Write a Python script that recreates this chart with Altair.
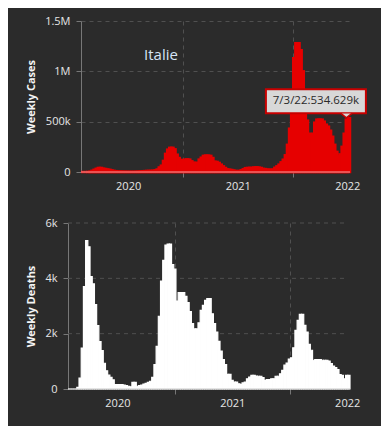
import altair as alt
import pandas as pd

country = "Italie"
y_title_top = "Weekly Cases"
y_title_bottom = "Weekly Deaths"

# weekly buckets (week start dates), last week starts 2022-07-03
weeks = pd.date_range("2020-01-26", periods=128, freq="7D")

cases = [
    0, 0, 0, 500, 3000, 12000, 22000, 32000, 40000, 40000,
    33000, 30000, 25000, 22000, 16000, 11000, 8000, 5000, 4000, 3000,
    2500, 2000, 1800, 1600, 1500, 1700, 2500, 3500, 5000, 7000,
    9000, 10000, 10500, 11000, 12000, 16000, 25000, 45000, 63000, 110000,
    180000, 222000, 240000, 240000, 225000, 172000, 139000, 120000, 106000, 123000,
    125000, 123000, 106000, 92000, 90000, 90000, 123000, 142000, 160000, 163000,
    162000, 160000, 139000, 102000, 100000, 90000, 73000, 56000, 40000, 26000,
    23000, 20000, 15000, 10000, 9000, 10000, 17000, 27000, 38000, 40000,
    41000, 40000, 45000, 46000, 44000, 40000, 31000, 29000, 24000, 23000,
    22000, 24000, 42000, 56000, 73000, 96000, 122000, 166000, 270000, 430000,
    700000, 1130000, 1280000, 1280000, 1210000, 1000000, 720000, 510000, 380000, 310000,
    380000, 490000, 520000, 520000, 520000, 500000, 470000, 450000, 410000, 350000,
    270000, 200000, 155000, 175000, 250000, 380000, 520000, 534629,
]

deaths = [
    0, 0, 0, 0, 60, 390, 1480, 3700, 5360, 5140,
    4060, 3800, 3050, 2290, 1710, 1390, 930, 660, 500, 420,
    330, 160, 160, 160, 160, 140, 120, 100, 80, 240,
    240, 100, 120, 140, 180, 200, 240, 280, 420, 880,
    1540, 2630, 3900, 4650, 5200, 5240, 5240, 4500, 4330, 3180,
    3480, 3480, 3480, 3350, 3120, 2800, 2360, 2170, 2170, 2390,
    2840, 3020, 3200, 3270, 3270, 2720, 2360, 2060, 1720, 1370,
    1060, 880, 530, 530, 310, 250, 250, 190, 170, 220,
    250, 370, 430, 490, 490, 470, 460, 460, 410, 310,
    340, 340, 370, 370, 460, 460, 550, 670, 860, 940,
    1080, 1130, 1490, 2120, 2480, 2700, 2700, 2300, 2060, 1610,
    1400, 1040, 1060, 1060, 1060, 1040, 1040, 1040, 1010, 920,
    830, 770, 700, 520, 490, 370, 490, 490,
]

assert len(cases) == len(weeks) == len(deaths)

case_ticks = [0, 500000, 1000000, 1500000]
death_ticks = [0, 2000, 4000, 6000]
death_grid = [2000, 4000, 6000]

df = pd.DataFrame({
    "start": weeks.strftime("%Y-%m-%d"),
    "end": (weeks + pd.Timedelta(days=7)).strftime("%Y-%m-%d"),
    "cases": cases,
    "deaths": deaths,
})
last = df.iloc[[-1]].copy()
d = weeks[-1]
last["label"] = f"{d.month}/{d.day}/{d.strftime('%y')}:{cases[-1] / 1000:.3f}k"
base = pd.DataFrame({"start": [df["start"].iloc[0]], "end": [df["end"].iloc[-1]], "zero": [0]})

BG = "#2b2b2b"
GRID = "#505050"
AXIS = "#777777"
LABEL = "#e6e6e6"
RED = "#e60000"
FONT = "Open Sans"

dom = [alt.DateTime(year=2020, month=1, date=26, utc=True),
       alt.DateTime(year=2022, month=7, date=10, utc=True)]
tick_dates = [
    alt.DateTime(year=2020, month=7, date=1, utc=True),
    alt.DateTime(year=2021, month=1, date=1, utc=True),
    alt.DateTime(year=2021, month=7, date=1, utc=True),
    alt.DateTime(year=2022, month=1, date=1, utc=True),
    alt.DateTime(year=2022, month=7, date=1, utc=True),
]
is_jan = "utcmonth(datum.value) == 0"


def x_axis():
    return alt.Axis(
        values=tick_dates,
        labelExpr="utcmonth(datum.value) == 6 ? utcFormat(datum.value, '%Y') : ''",
        grid=True, gridDash=[4, 4], gridColor=GRID,
        gridOpacity={"condition": {"test": is_jan, "value": 1}, "value": 0},
        ticks=True, tickColor=AXIS, tickSize=5,
        tickOpacity={"condition": {"test": is_jan, "value": 1}, "value": 0},
        domain=False, labelPadding=3, labelColor=LABEL, labelFont=FONT,
        labelFontSize=11, labelFlush=False, labelOverlap=False, title=None,
    )


def y_axis(values, expr, title, grid, offset=0):
    return alt.Axis(
        values=values, labelExpr=expr, grid=grid, gridDash=[4, 4], gridColor=GRID,
        domain=True, domainColor=AXIS, ticks=True, tickColor=AXIS, tickSize=5,
        labelPadding=6, labelColor=LABEL, labelFont=FONT, labelFontSize=11,
        title=title, titleColor="#f4f4f4", titleFont=FONT, titleFontSize=11,
        titleFontWeight="bold", titlePadding=8, offset=offset,
    )


top_expr = ("datum.value == 0 ? '0' : datum.value >= 1000000 ? "
            "format(datum.value / 1000000, '~g') + 'M' : format(datum.value / 1000, '~g') + 'k'")
bot_expr = "datum.value == 0 ? '0' : format(datum.value / 1000, '~g') + 'k'"

# ---------------- top: weekly cases ----------------
W_TOP, H_TOP = 269, 151
bars_top = alt.Chart(df).mark_bar(color=RED, stroke=RED, strokeWidth=2.5).encode(
    x=alt.X("start:T", scale=alt.Scale(type="utc", domain=dom, nice=False), axis=x_axis()),
    x2="end:T",
    y=alt.Y("cases:Q", scale=alt.Scale(domain=[0, 1500000], nice=False),
            axis=y_axis(case_ticks, top_expr, y_title_top, True)),
    y2=alt.datum(0),
)
base_top = alt.Chart(base).mark_rule(color="#f3a3a3", strokeWidth=1).encode(
    x="start:T", x2="end:T", y="zero:Q")
name = alt.Chart(pd.DataFrame({"t": [country]})).mark_text(
    font=FONT, fontSize=15, color="#d6e4f6", align="center", baseline="middle"
).encode(text="t:N", x=alt.value(80), y=alt.value(34))
box = alt.Chart(last).mark_rect(
    fill="#d8d8d8", stroke="#c80000", strokeWidth=2,
    xOffset=-82, x2Offset=18, yOffset=-29, y2Offset=-5,
).encode(x="start:T", x2="start:T", y="cases:Q", y2="cases:Q")
pointer = alt.Chart(last).mark_point(
    shape="M-1,-0.4L0,0.4L1,-0.4", filled=True, fill="#d8d8d8", stroke="#c80000",
    strokeWidth=1.5, size=121, opacity=1, xOffset=-1.5, yOffset=-2.6,
).encode(x="start:T", y="cases:Q")
tip_text = alt.Chart(last).mark_text(
    font=FONT, fontSize=11.5, color="#2a2a2a", align="center", baseline="middle",
    dx=-32, dy=-17,
).encode(x="start:T", y="cases:Q", text="label:N")

top = alt.layer(bars_top, base_top, name, box, pointer, tip_text).properties(
    width=W_TOP, height=H_TOP)

# ---------------- bottom: weekly deaths ----------------
EXTRA = 13
W_BOT, H_BOT = 269, 166
bars_bot = alt.Chart(df).mark_bar(color="#ffffff", stroke="#ffffff", strokeWidth=1.2).encode(
    x=alt.X("start:T", scale=alt.Scale(type="utc", domain=dom, nice=False, range=[-EXTRA, W_BOT]),
            axis=x_axis()),
    x2="end:T",
    y=alt.Y("deaths:Q", scale=alt.Scale(domain=[0, 6000], nice=False),
            axis=y_axis(death_ticks, bot_expr, y_title_bottom, False, offset=EXTRA)),
    y2=alt.datum(0),
)
grid_bot = alt.Chart(pd.DataFrame({"g": death_grid})).mark_rule(
    color=GRID, strokeDash=[4, 4], strokeWidth=1
).encode(y="g:Q", x=alt.value(-EXTRA), x2=alt.value(W_BOT - 2))
base_bot = alt.Chart(base).mark_rule(color="#c8c8c8", strokeWidth=1).encode(
    x="start:T", x2="end:T", y="zero:Q")

bottom = alt.layer(grid_bot, bars_bot, base_bot).properties(width=W_BOT, height=H_BOT)

chart = alt.vconcat(top, bottom, spacing=26).properties(
    background=BG,
    padding={"left": 17, "top": 7, "right": 14, "bottom": 18},
).configure_view(stroke=None)

chart.save("out.html", embed_options={"renderer": "svg", "actions": False})
